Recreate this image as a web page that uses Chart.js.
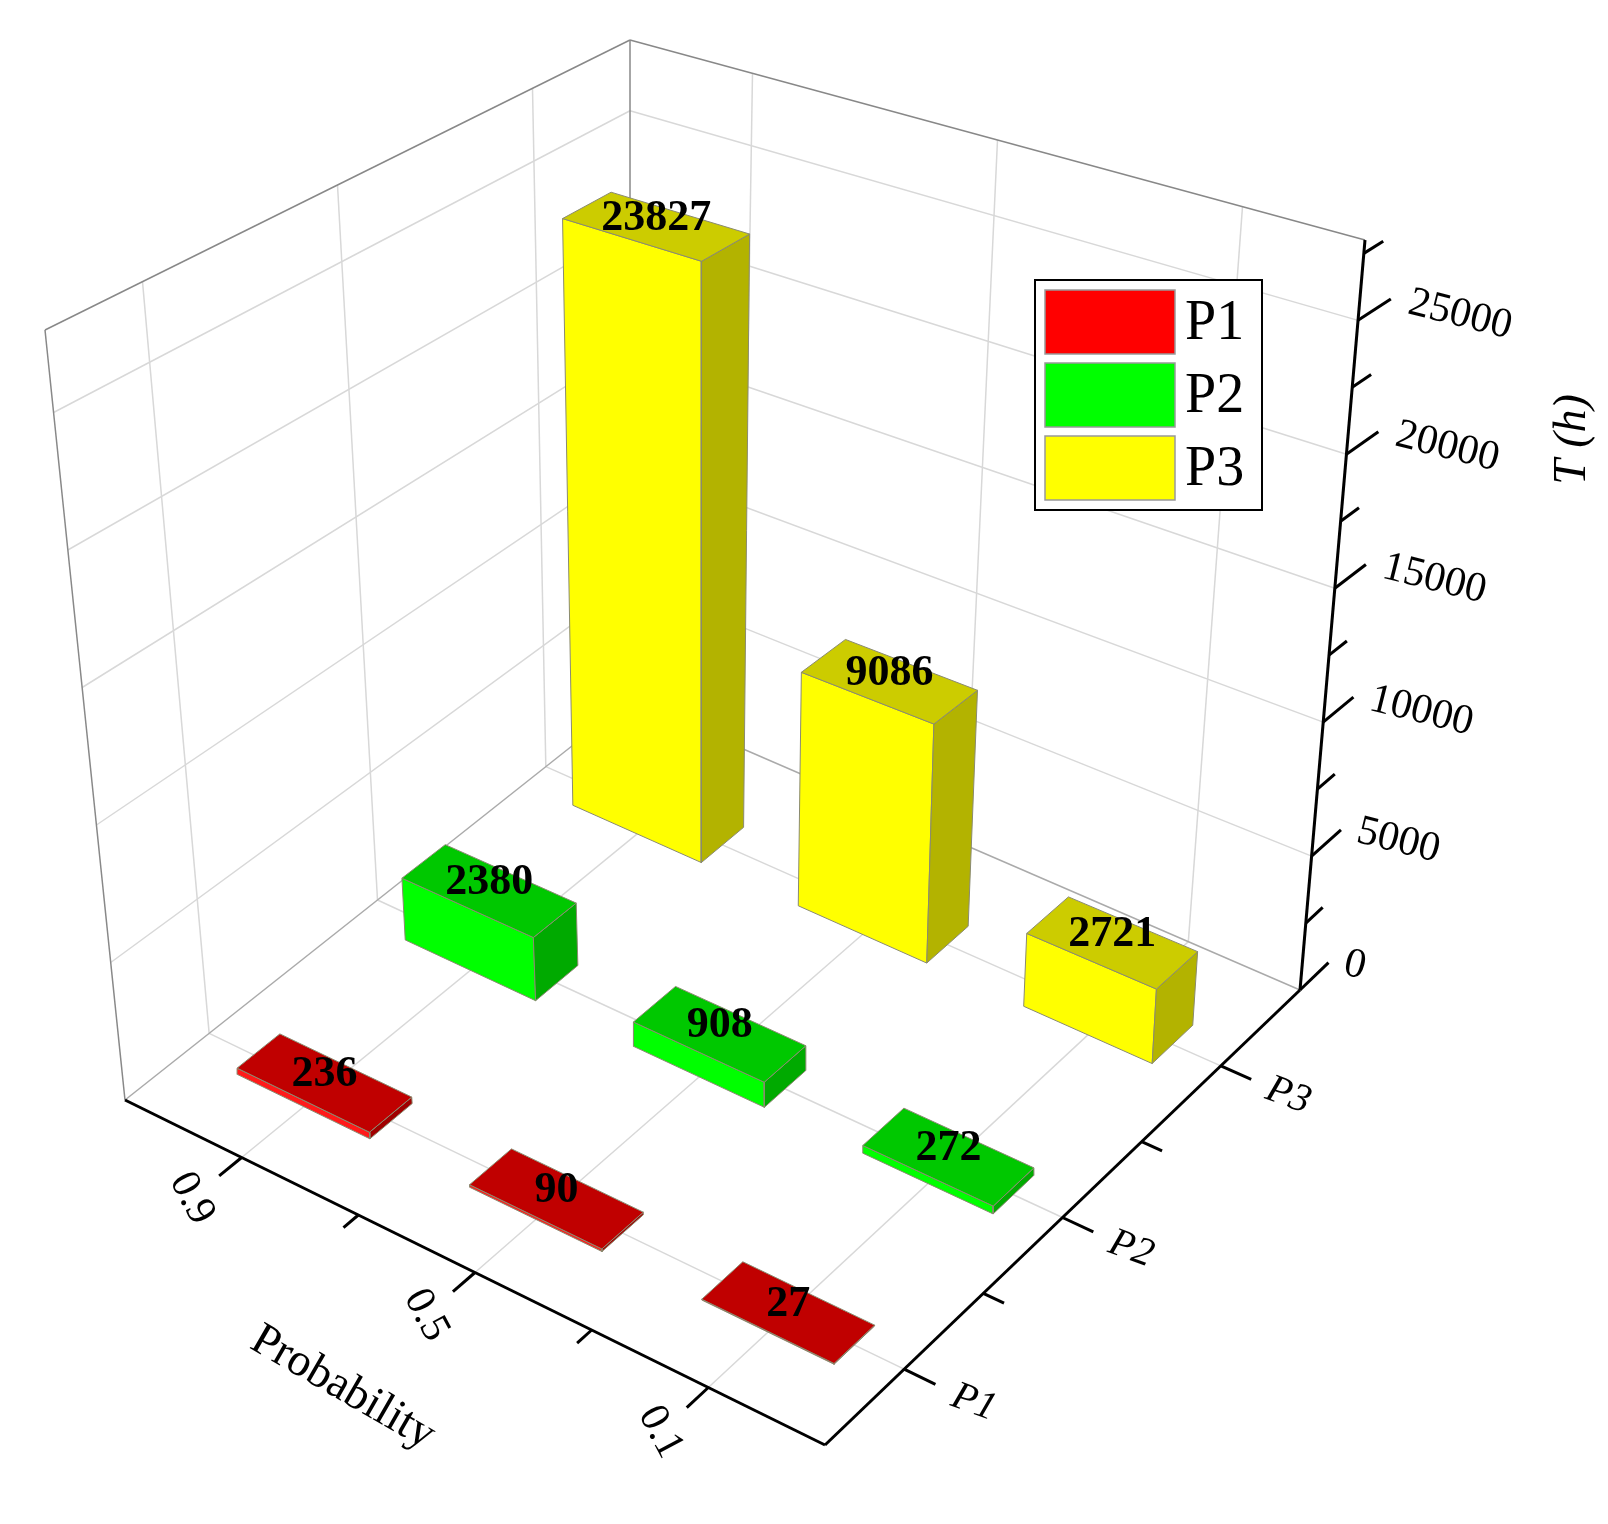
<!DOCTYPE html>
<html>
<head>
<meta charset="utf-8">
<script src="https://cdn.jsdelivr.net/npm/chart.js@4.4.1/dist/chart.umd.min.js"></script>
<style>
  html, body { margin: 0; padding: 0; background: #fff; overflow: hidden; }
  canvas { display: block; }
</style>
</head>
<body>
<canvas id="chart" width="1608" height="1524"></canvas>
<script>
// ---- data ----
var probLabels = ["0.1", "0.5", "0.9"];
var seriesNames = ["P1", "P2", "P3"];
var p1Values = [27, 90, 236];
var p2Values = [272, 908, 2380];
var p3Values = [2721, 9086, 23827];
var zTicks = [0, 5000, 10000, 15000, 20000, 25000];
var zMax = 28000;

var seriesValues = [p1Values, p2Values, p3Values];
var topColors = ["#c00000", "#00c800", "#cccc00"];
var frontColors = ["#ff1a1a", "#00ff00", "#ffff00"];
var sideColors = ["#a00000", "#00aa00", "#b3b300"];
var legendColors = ["#ff0000", "#00ff00", "#ffff00"];

// ---- projection (floor corners + vertical scale, bilinear) ----
var A = [825, 1445], B = [125, 1100], C = [1300, 990], D = [630, 700];
var kA = 860, kB = 770, kC = 750, kD = 660;
var dxA = -15, dxB = -80, dxC = 65, dxD = 0;

function bil(a, b, c, d, p, s) {
  return a * (1 - p) * (1 - s) + b * p * (1 - s) + c * (1 - p) * s + d * p * s;
}
// p: 0 at A -> 1 at B (probability axis), s: 0 at A -> 1 at C (series axis), z: value
function proj(p, s, z) {
  var x = bil(A[0], B[0], C[0], D[0], p, s);
  var y = bil(A[1], B[1], C[1], D[1], p, s);
  var f = z / zMax;
  return { x: x + f * bil(dxA, dxB, dxC, dxD, p, s), y: y - f * bil(kA, kB, kC, kD, p, s) };
}
function catPos(i) { return (i + 0.5) / 3; }

var datasets = [];
function poly(pts, fill, stroke, width) {
  var d = pts.slice();
  d.push(pts[0]);
  datasets.push({
    data: d, showLine: true, pointRadius: 0, borderColor: stroke, borderWidth: width,
    backgroundColor: fill, fill: fill ? "shape" : false, tension: 0
  });
}
function line(a, b, color, width) {
  datasets.push({
    data: [a, b], showLine: true, pointRadius: 0, borderColor: color,
    borderWidth: width, fill: false
  });
}

// walls and floor grid
var grid = "#d8d8d8";
zTicks.forEach(function (z) {
  if (z === 0) return;
  line(proj(1, 0, z), proj(1, 1, z), grid, 1.5);
  line(proj(1, 1, z), proj(0, 1, z), grid, 1.5);
});
[0, 1, 2].forEach(function (i) {
  var c = catPos(i);
  line(proj(c, 1, 0), proj(c, 1, zMax), grid, 1.5);
  line(proj(1, c, 0), proj(1, c, zMax), grid, 1.5);
  line(proj(c, 0, 0), proj(c, 1, 0), grid, 1.5);
  line(proj(0, c, 0), proj(1, c, 0), grid, 1.5);
});
// wall frame
var frame = "#888";
line(proj(1, 0, 0), proj(1, 0, zMax), frame, 1.5);
line(proj(1, 1, 0), proj(1, 1, zMax), frame, 1.5);
line(proj(1, 0, zMax), proj(1, 1, zMax), frame, 1.5);
line(proj(1, 1, zMax), proj(0, 1, zMax), frame, 1.5);
line(proj(1, 0, 0), proj(1, 1, 0), "#aaa", 1.5);
line(proj(1, 1, 0), proj(0, 1, 0), "#aaa", 1.5);

// axes
line(proj(1, 0, 0), proj(0, 0, 0), "#000", 3);
line(proj(0, 0, 0), proj(0, 1, 0), "#000", 3);
line(proj(0, 1, 0), proj(0, 1, zMax), "#000", 3);
for (var t = 1; t <= 5; t++) {
  var q = t / 6, len = (t % 2 === 1) ? 0.045 : 0.03;
  line(proj(q, 0, 0), proj(q, -len, 0), "#000", 3);
  line(proj(0, q, 0), proj(-len, q, 0), "#000", 3);
}
for (var z = 0; z <= 27500; z += 2500) {
  var l = (z % 5000 === 0) ? 0.06 : 0.035;
  line(proj(0, 1, z), proj(0, 1 + l, z), "#000", 3);
}

// bars, back to front
var dp = 0.19, ds = 0.085;
var bars = [];
seriesValues.forEach(function (vals, si) {
  vals.forEach(function (v, pi) {
    bars.push({ p: catPos(pi), s: catPos(si), v: v, si: si });
  });
});
bars.sort(function (a, b) { return (b.p + b.s) - (a.p + a.s); });
var edge = "#8a8a70";
bars.forEach(function (b) {
  var p0 = b.p - dp / 2, p1 = b.p + dp / 2, s0 = b.s - ds / 2, s1 = b.s + ds / 2;
  poly([proj(p0, s0, 0), proj(p1, s0, 0), proj(p1, s0, b.v), proj(p0, s0, b.v)],
    frontColors[b.si], edge, 1);
  poly([proj(p0, s0, 0), proj(p0, s1, 0), proj(p0, s1, b.v), proj(p0, s0, b.v)],
    sideColors[b.si], edge, 1);
  poly([proj(p0, s0, b.v), proj(p1, s0, b.v), proj(p1, s1, b.v), proj(p0, s1, b.v)],
    topColors[b.si], edge, 1);
});
var drawOrder = datasets.slice().reverse(); // first dataset is drawn on top

var textPlugin = {
  id: "texts",
  afterDatasetsDraw: function (chart) {
    var ctx = chart.ctx, X = chart.scales.x, Y = chart.scales.y;
    function px(pt) { return [X.getPixelForValue(pt.x), Y.getPixelForValue(pt.y)]; }
    function text(str, pt, angle, font, align) {
      var q = px(pt);
      ctx.save();
      ctx.translate(q[0], q[1]);
      ctx.rotate(angle * Math.PI / 180);
      ctx.font = font;
      ctx.fillStyle = "#000";
      ctx.textAlign = align || "center";
      ctx.textBaseline = "middle";
      ctx.fillText(str, 0, 0);
      ctx.restore();
    }
    var serif = "'Liberation Serif', 'Times New Roman', serif";
    bars.forEach(function (b) {
      var top = proj(b.p, b.s, b.v);
      text(String(b.v), { x: top.x, y: top.y - 8 }, 0, "bold 44px " + serif);
    });
    probLabels.forEach(function (lab, i) {
      text(lab, proj(catPos(i), -0.1, 0), 62, "42px " + serif);
    });
    seriesNames.forEach(function (lab, i) {
      text(lab, proj(-0.1, catPos(i), 0), 20, "italic 40px " + serif);
    });
    zTicks.forEach(function (z) {
      var pt = proj(0, 1.09, z);
      text(String(z), { x: pt.x + 2, y: pt.y + 14 }, 14, "42px " + serif, "left");
    });
    text("Probability", proj(0.5, -0.27, 0), 30, "46px " + serif);
    text("T (h)", proj(0, 1.47, 13500), -90, "italic 46px " + serif);

    // legend
    var lx = X.getPixelForValue(1035), ly = Y.getPixelForValue(280);
    ctx.save();
    ctx.fillStyle = "#fff";
    ctx.fillRect(lx, ly, 227, 230);
    ctx.strokeStyle = "#000";
    ctx.lineWidth = 2;
    ctx.strokeRect(lx, ly, 227, 230);
    seriesNames.forEach(function (n, i) {
      var yy = ly + 10 + i * 73;
      ctx.fillStyle = legendColors[i];
      ctx.fillRect(lx + 10, yy, 130, 64);
      ctx.strokeStyle = "#999";
      ctx.lineWidth = 1.5;
      ctx.strokeRect(lx + 10, yy, 130, 64);
      ctx.fillStyle = "#000";
      ctx.font = "56px " + serif;
      ctx.textAlign = "left";
      ctx.textBaseline = "middle";
      ctx.fillText(n, lx + 150, yy + 34);
    });
    ctx.restore();
  }
};

new Chart(document.getElementById("chart"), {
  type: "scatter",
  data: { datasets: drawOrder },
  options: {
    responsive: false,
    animation: false,
    devicePixelRatio: 1,
    layout: { padding: 0 },
    plugins: { legend: { display: false }, tooltip: { enabled: false } },
    scales: {
      x: { type: "linear", min: 0, max: 1608, display: false },
      y: { type: "linear", min: 0, max: 1524, reverse: true, display: false }
    }
  },
  plugins: [textPlugin]
});
</script>
</body>
</html>
